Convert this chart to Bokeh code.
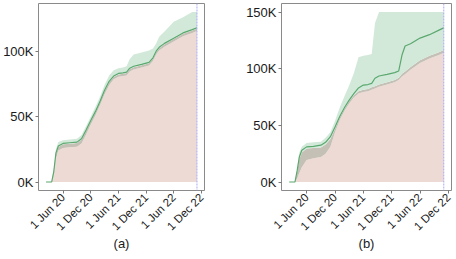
import math
import pandas as pd
from bokeh.plotting import figure
from bokeh.layouts import row
from bokeh.models import Range1d, FixedTicker, Span, ColumnDataSource
from bokeh.embed import file_html
from bokeh.resources import INLINE

# ---- data (values in thousands) ----
dates = ["2020-02-10", "2020-03-18", "2020-04-01", "2020-04-15", "2020-05-01",
         "2020-06-01", "2020-07-15", "2020-09-01", "2020-10-01", "2020-11-01",
         "2020-12-01", "2021-01-01", "2021-02-01", "2021-03-01", "2021-04-01",
         "2021-05-01", "2021-06-01", "2021-07-01", "2021-07-25", "2021-08-15",
         "2021-09-10", "2021-11-01", "2021-12-20", "2022-01-15", "2022-02-05",
         "2022-02-25", "2022-04-01", "2022-06-01", "2022-08-01", "2022-10-01",
         "2022-11-01"]

# panel (a)
lo_a = [0, 0, 5, 18, 24, 26, 26.5, 27, 29.5, 36.5, 44, 51, 59, 67, 74, 78.5,
        80.5, 81, 81.5, 84.5, 86, 87.5, 89, 92.5, 97.5, 100.5, 103.5, 107.5,
        111.5, 114, 115.5]
obs_a = [0, 0, 7.3, 21.3, 26.8, 28.8, 29.3, 29.8, 32.3, 39.3, 46.3, 53.3, 61.3,
         69.3, 76.3, 80.3, 82.3, 82.8, 83.3, 86.3, 87.8, 89.3, 90.8, 94.3, 99.3,
         102.3, 105.3, 109.3, 113.3, 115.8, 117.3]
med_a = [0, 0, 8, 22, 27.5, 29.5, 30, 30.5, 33, 40, 47, 54, 62, 70, 77, 81, 83,
         83.5, 84, 87, 88.5, 90, 91.5, 95, 100, 103, 106, 110, 114, 116.5, 118]
hi_a = [0, 0, 10, 25, 30.5, 32, 32.5, 33, 36, 43, 50, 57.5, 65.5, 74, 81.5, 85.5,
        87, 87.5, 88.5, 94, 97.5, 99, 100.5, 102, 106, 111, 115, 122.5, 126, 130,
        130]

# panel (b)
lo_b = [0, 0, 3, 8, 13, 19.5, 21, 22, 25, 31, 44, 55, 63, 69, 74.5, 78, 79.5, 80,
        81.5, 82.5, 84, 86, 88, 90, 93, 95, 99, 105, 109, 112, 114]
obs_b = [0, 0, 9, 20, 26, 29.5, 30, 30.5, 33, 38, 47, 57, 65, 71, 76.5, 80, 81.5,
         82, 83.5, 84.5, 86, 88, 90, 92, 95.5, 97.5, 101.5, 107.5, 111.5, 114.5,
         116.5]
med_b = [0, 0, 10, 22, 28, 31, 31.5, 32.5, 35, 40, 48.5, 58, 66, 72, 78, 83, 85.5,
         86, 87, 91.5, 93.5, 95, 96.5, 98, 112, 120, 122, 127, 130, 134, 136]
hi_b = [0, 0, 12, 26, 31, 34.5, 35, 35.5, 39, 44, 54, 66, 76, 85, 96, 110, 111.5,
        112, 113, 140, 150, 150, 150, 150, 150, 150, 150, 150, 150, 150, 150]

x_tick_dates = ["2020-06-01", "2020-12-01", "2021-06-01", "2021-12-01",
                "2022-06-01", "2022-12-01"]
x_tick_labels = ["1 Jun 20", "1 Dec 20", "1 Jun 21", "1 Dec 21", "1 Jun 22",
                 "1 Dec 22"]
y_ticks_a = [0, 50, 100]
y_ticks_b = [0, 50, 100, 150]

PINK = "#EDDAD5"
GREY = "#C4C0B5"
GBAND = "#D2E9DA"
LINE = "#5AA86E"
SPAN = "#A9A9F5"
FONT = "Liberation Sans"


def ms(s):
    return pd.Timestamp(s).value / 1e6


def panel(lo, obs, med, hi, yticks, caption, left, right):
    xs = [ms(d) for d in dates]
    src = ColumnDataSource(dict(x=xs, zero=[0] * len(xs), lo=lo, obs=obs,
                                med=med, hi=hi))
    x0, x1 = xs[0], xs[-1]
    pad = (x1 - x0) * 0.05
    ymax = max(hi)
    p = figure(width=left + 170 + right, height=259, x_axis_type="datetime",
               output_backend="svg", toolbar_location=None,
               x_range=Range1d(x0 - pad, x1 + pad),
               y_range=Range1d(-ymax * 0.05, ymax * 1.05),
               min_border_left=left, min_border_right=right,
               min_border_top=3, min_border_bottom=69)
    p.varea(x="x", y1="zero", y2="lo", source=src, fill_color=PINK)
    p.varea(x="x", y1="lo", y2="obs", source=src, fill_color=GREY)
    p.varea(x="x", y1="obs", y2="hi", source=src, fill_color=GBAND)
    p.line(x="x", y="med", source=src, line_color=LINE, line_width=1.2)
    p.add_layout(Span(location=x1, dimension="height", line_color=SPAN,
                      line_width=1, line_dash="2 1"))
    p.grid.visible = False
    p.outline_line_color = "#8a8a8a"
    p.outline_line_width = 1
    p.background_fill_color = "white"
    p.border_fill_color = "white"

    tx = [ms(d) for d in x_tick_dates]
    p.xaxis.ticker = FixedTicker(ticks=tx)
    p.xaxis.major_label_overrides = {t: l for t, l in zip(tx, x_tick_labels)}
    p.xaxis.major_label_orientation = math.pi / 4
    p.yaxis.ticker = FixedTicker(ticks=yticks)
    p.yaxis.major_label_overrides = {t: f"{t}K" for t in yticks}
    for ax in (p.xaxis, p.yaxis):
        ax.axis_line_color = None
        ax.major_tick_line_color = "#7a7a7a"
        ax.major_tick_out = 3
        ax.major_tick_in = 0
        ax.minor_tick_line_color = None
        ax.major_label_text_font = FONT
        ax.major_label_text_color = "#1a1a1a"
        ax.major_label_standoff = 2
    p.yaxis.major_label_text_font_size = "13px"
    p.xaxis.major_label_text_font_size = "11.5px"
    p.xaxis.axis_label = caption
    p.xaxis.axis_label_text_font = FONT
    p.xaxis.axis_label_text_font_size = "13px"
    p.xaxis.axis_label_text_font_style = "normal"
    p.xaxis.axis_label_text_color = "#1a1a1a"
    p.xaxis.axis_label_standoff = -4
    return p


pa = panel(lo_a, obs_a, med_a, hi_a, y_ticks_a, "(a)", 34, 24)
pb = panel(lo_b, obs_b, med_b, hi_b, y_ticks_b, "(b)", 53, 5)
layout = row(pa, pb)
open("out.html", "w").write(file_html(layout, INLINE))
